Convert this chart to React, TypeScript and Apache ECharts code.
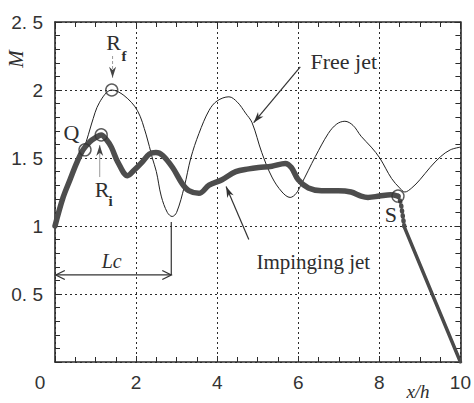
import React, { useEffect, useRef } from 'react';
import * as echarts from 'echarts';

// ---- data ----
const xTickLabels = ['0', '2', '4', '6', '8', '10'];
const yTickLabels = ['0', '0. 5', '1', '1. 5', '2', '2. 5'];

const freeX = [0, 0.2, 0.4, 0.6, 0.75, 0.9, 1.1, 1.4, 1.7, 2.03, 2.25, 2.4, 2.5, 2.62, 2.77, 2.89, 3.0, 3.19, 3.35, 3.55, 3.8, 4.0, 4.29, 4.5, 4.7, 4.86, 5.1, 5.35, 5.6, 5.8, 5.95, 6.08, 6.25, 6.42, 6.74, 6.95, 7.15, 7.35, 7.55, 7.8, 8.01, 8.3, 8.5, 8.63, 8.8, 9.0, 9.25, 9.51, 9.75, 10];
const freeM = [1.0, 1.2, 1.37, 1.5, 1.6, 1.75, 1.91, 2.0, 1.96, 1.85, 1.67, 1.5, 1.4, 1.22, 1.1, 1.07, 1.1, 1.29, 1.5, 1.68, 1.85, 1.92, 1.95, 1.91, 1.83, 1.76, 1.54, 1.36, 1.25, 1.21, 1.24, 1.31, 1.41, 1.51, 1.68, 1.75, 1.77, 1.74, 1.66, 1.58, 1.5, 1.35, 1.28, 1.25, 1.28, 1.34, 1.43, 1.51, 1.56, 1.58];

const impX = [0, 0.2, 0.37, 0.53, 0.69, 0.86, 1.0, 1.14, 1.28, 1.39, 1.55, 1.79, 1.95, 2.15, 2.33, 2.49, 2.65, 2.9, 3.14, 3.3, 3.55, 3.8, 4.12, 4.46, 4.78, 5.02, 5.35, 5.68, 5.83, 6.0, 6.25, 6.57, 6.99, 7.3, 7.55, 7.72, 8.0, 8.28, 8.46];
const impM = [1.0, 1.21, 1.34, 1.46, 1.56, 1.62, 1.65, 1.67, 1.63, 1.58, 1.47, 1.37, 1.41, 1.47, 1.53, 1.54, 1.52, 1.43, 1.31, 1.26, 1.24, 1.3, 1.34, 1.4, 1.42, 1.43, 1.44, 1.46, 1.43, 1.34, 1.28, 1.26, 1.26, 1.25, 1.22, 1.21, 1.22, 1.23, 1.22];

const dropX = [8.46, 8.53, 8.62];
const dropM = [1.22, 1.17, 0.99];
const tailX = [8.62, 10];
const tailM = [0.99, 0.0];

const pointNames = ['Q', 'Ri', 'Rf', 'S'];
const pointX = [0.74, 1.14, 1.4, 8.46];
const pointM = [1.56, 1.67, 2.0, 1.22];

const zip = (xs: number[], ys: number[]) => xs.map((x, i) => [x, ys[i]]);

const SERIF = '"Liberation Serif", "Times New Roman", serif';
const SANS = '"Liberation Sans", Arial, sans-serif';
const INK = '#2b2b2b';

export default function App() {
  const ref = useRef<HTMLDivElement>(null);
  useEffect(() => {
    if (!ref.current) return;
    const chart = echarts.init(ref.current, undefined, { renderer: 'svg' });
    const frameLine = { show: true, onZero: false, lineStyle: { color: INK, width: 1.6 } };
    const tick = { show: true, inside: true, length: 6, lineStyle: { color: INK, width: 1 } };
    const grid = { show: true, lineStyle: { color: INK, width: 1, type: [2, 3] as any } };
    const option: any = {
      animation: false,
      backgroundColor: '#fff',
      grid: { left: 55, right: 11, top: 22, bottom: 41 },
      xAxis: [
        {
          type: 'value', min: 0, max: 10, interval: 2, position: 'bottom',
          axisLine: frameLine, axisTick: tick,
          minorTick: { show: true, splitNumber: 4, length: 5, lineStyle: { color: INK } },
          splitLine: grid,
          axisLabel: {
            margin: 11,
            fontFamily: SANS, fontSize: 19, color: '#333',
            formatter: (v: number, i: number) => (i === 0 ? '{o|' + xTickLabels[0] + '}' : xTickLabels[i]),
            rich: { o: { fontFamily: SANS, fontSize: 19, color: '#333', padding: [0, 30, 0, 0] } },
          },
        },
        {
          type: 'value', min: 0, max: 10, interval: 2, position: 'top',
          axisLine: frameLine, axisTick: tick,
          minorTick: { show: true, splitNumber: 4, length: 5, lineStyle: { color: INK } },
          splitLine: { show: false }, axisLabel: { show: false },
        },
      ],
      yAxis: [
        {
          type: 'value', min: 0, max: 2.5, interval: 0.5, position: 'left',
          axisLine: frameLine, axisTick: tick,
          minorTick: { show: true, splitNumber: 5, length: 5, lineStyle: { color: INK } },
          splitLine: grid,
          axisLabel: {
            margin: 12, fontFamily: SANS, fontSize: 19, color: '#333',
            formatter: (v: number, i: number) => (i === 0 ? '' : yTickLabels[i]),
          },
        },
        {
          type: 'value', min: 0, max: 2.5, interval: 0.5, position: 'right',
          axisLine: frameLine, axisTick: tick,
          minorTick: { show: true, splitNumber: 5, length: 5, lineStyle: { color: INK } },
          splitLine: { show: false }, axisLabel: { show: false },
        },
      ],
      series: [
        {
          name: 'Free jet', type: 'line', data: zip(freeX, freeM), symbol: 'none', smooth: 0.35,
          lineStyle: { color: '#222', width: 1 }, z: 3,
        },
        {
          name: 'Impinging jet', type: 'line', data: zip(impX, impM), symbol: 'none', smooth: 0.35,
          lineStyle: { color: '#4d4d4d', width: 5.5, cap: 'round', join: 'round' }, z: 4,
        },
        {
          name: 'drop', type: 'line', data: zip(dropX, dropM), symbol: 'none',
          lineStyle: { color: '#4d4d4d', width: 4.5, type: [1, 4] as any, cap: 'round' }, z: 4,
        },
        {
          name: 'tail', type: 'line', data: zip(tailX, tailM), symbol: 'none',
          lineStyle: { color: '#4a4a4a', width: 3.5, cap: 'round' }, z: 4,
        },
        {
          name: 'points', type: 'scatter', data: pointX.map((x, i) => ({ name: pointNames[i], value: [x, pointM[i]] })),
          symbol: 'circle', symbolSize: 12,
          itemStyle: { color: 'rgba(255,255,255,0)', borderColor: '#333', borderWidth: 1.4 }, z: 6,
        },
      ],
    };
    chart.setOption(option);

    const P = (x: number, y: number) => chart.convertToPixel({ xAxisIndex: 0, yAxisIndex: 0 }, [x, y]) as number[];
    const head = (from: number[], to: number[], len: number, w: number, open: boolean, color: string) => {
      const dx = to[0] - from[0], dy = to[1] - from[1];
      const d = Math.hypot(dx, dy) || 1;
      const ux = dx / d, uy = dy / d, nx = -uy, ny = ux;
      const bx = to[0] - ux * len, by = to[1] - uy * len;
      const a = [bx + nx * w / 2, by + ny * w / 2];
      const b = [bx - nx * w / 2, by - ny * w / 2];
      if (open) return { type: 'polyline', shape: { points: [a, to, b] }, style: { stroke: color, lineWidth: 1.3, fill: null }, z: 10 };
      const notch = [to[0] - ux * len * 0.7, to[1] - uy * len * 0.7];
      return { type: 'polygon', shape: { points: [to, a, notch, b] }, style: { fill: color }, z: 10 };
    };
    const arrow = (f: number[], t: number[], color: string, headColor: string, width: number, dash?: any) => {
      const from = P(f[0], f[1]), to = P(t[0], t[1]);
      return [
        { type: 'line', shape: { x1: from[0], y1: from[1], x2: to[0], y2: to[1] }, style: { stroke: color, lineWidth: width, lineDash: dash }, z: 10 },
        head(from, to, 11, 7, false, headColor),
      ];
    };
    const txt = (p: number[], text: string, size: number, extra: any = {}) => ({
      type: 'text', x: p[0], y: p[1], z: 11,
      style: { text, fontFamily: SERIF, fontSize: size, fill: '#2e2e2e', align: 'center', verticalAlign: 'middle', ...extra },
    });

    const lcA = P(0.02, 0.64), lcB = P(2.868, 0.64), lcTop = P(2.868, 1.03);
    const graphic: any[] = [
      ...arrow([6.05, 2.17], [4.9, 1.76], '#333', '#333', 1.2),
      ...arrow([4.78, 0.9], [4.22, 1.29], '#333', '#333', 1.2),
      ...arrow([1.42, 2.25], [1.42, 2.09], '#999', '#444', 1, [3, 2]),
      ...arrow([1.103, 1.36], [1.103, 1.595], '#999', '#444', 1),
      txt(P(6.3, 2.206), 'Free jet', 22, { align: 'left' }),
      txt(P(6.37, 0.735), 'Impinging jet', 21),
      txt(P(1.446, 2.349), 'R', 22),
      txt(P(1.703, 2.25), 'f', 15, { fontWeight: 'bold' }),
      txt(P(1.164, 1.268), 'R', 22),
      txt(P(1.373, 1.184), 'i', 15, { fontWeight: 'bold' }),
      txt(P(0.404, 1.6875), 'Q', 22),
      txt(P(8.284, 1.088), 'S', 22),
      txt(P(1.397, 0.739), 'Lc', 20, { fontStyle: 'italic' }),
      { type: 'line', shape: { x1: lcTop[0], y1: lcTop[1], x2: lcB[0], y2: lcB[1] }, style: { stroke: '#333', lineWidth: 1.2 }, z: 10 },
      { type: 'line', shape: { x1: lcA[0], y1: lcA[1], x2: lcB[0], y2: lcB[1] }, style: { stroke: '#333', lineWidth: 1.2 }, z: 10 },
      head(lcB, lcA, 9, 9, true, '#333'),
      head(lcA, lcB, 9, 9, true, '#333'),
      { type: 'text', x: 16, y: 59, rotation: Math.PI / 2, z: 11,
        style: { text: 'M', fontFamily: SERIF, fontStyle: 'italic', fontSize: 21, fill: '#2e2e2e', align: 'center', verticalAlign: 'middle' } },
      { type: 'text', x: 418, y: 391, z: 11,
        style: { text: 'x/h', fontFamily: SERIF, fontStyle: 'italic', fontSize: 19, fill: '#2e2e2e', align: 'center', verticalAlign: 'middle' } },
    ];
    chart.setOption({ graphic });
    return () => chart.dispose();
  }, []);
  return <div ref={ref} style={{ position: 'absolute', left: 0, top: 0, width: 474, height: 403, background: '#fff' }} />;
}
